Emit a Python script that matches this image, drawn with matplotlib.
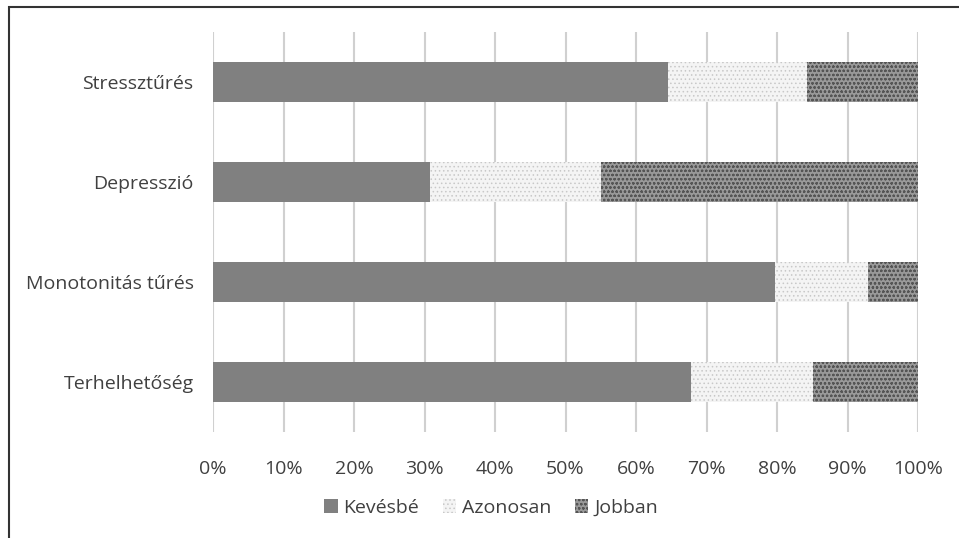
import matplotlib
matplotlib.use("Agg")
import matplotlib.pyplot as plt
from matplotlib.patches import Rectangle

categories = ["Terhelhetőség", "Monotonitás tűrés", "Depresszió", "Stressztűrés"]
kevesbe = [67.8, 79.7, 30.8, 64.5]
azonosan = [17.3, 13.2, 24.2, 19.8]
jobban = [14.9, 7.1, 45.0, 15.7]
series_names = ["Kevésbé", "Azonosan", "Jobban"]
xticks = [0, 10, 20, 30, 40, 50, 60, 70, 80, 90, 100]

plt.rcParams['font.family'] = ['Open Sans', 'DejaVu Sans']
plt.rcParams['hatch.linewidth'] = 0.6

fig = plt.figure(figsize=(9.59, 5.38), dpi=100)
ax = fig.add_axes([213/959, 1 - 432/538, 705/959, 400/538])

# outer frame (only left/top visible in the reference crop)
fig.patches.append(Rectangle((9/959, -0.1), 1.2, 1 - 7/538 + 0.1, transform=fig.transFigure,
                             fill=False, edgecolor="#333333", linewidth=1.5, clip_on=False))

y = range(len(categories))
h = 0.4
lefts = [0] * len(categories)
styles = [
    dict(color="#808080", hatch=None, edgecolor="#808080"),
    dict(color="#f4f4f4", hatch="....", edgecolor="#c8c8c8"),
    dict(color="#999999", hatch="oooo", edgecolor="#555555"),
]
for name, vals, st in zip(series_names, [kevesbe, azonosan, jobban], styles):
    ax.barh(y, vals, left=lefts, height=h, color=st["color"], hatch=st["hatch"],
            edgecolor=st["edgecolor"], linewidth=0, label=name, zorder=3)
    lefts = [a + b for a, b in zip(lefts, vals)]

fs = 14
ax.set_xlim(0, 100)
ax.set_ylim(-0.5, 3.5)
ax.set_xticks(xticks)
ax.set_xticklabels([f"{t}%" for t in xticks], fontsize=fs, color="#404040")
ax.set_yticks(list(y))
ax.set_yticklabels(categories, fontsize=fs, color="#404040")
ax.tick_params(length=0)
ax.tick_params(axis="x", pad=20)
ax.tick_params(axis="y", pad=14)
for s in ax.spines.values():
    s.set_visible(False)
ax.grid(axis="x", color="#d0d0d0", linewidth=1.5, zorder=0)
ax.set_axisbelow(True)

leg = fig.legend(loc="center", bbox_to_anchor=(0.512, 1 - 508/538), ncol=3, frameon=False,
                 fontsize=fs, handlelength=0.7, handleheight=0.7, handletextpad=0.3,
                 columnspacing=1.2)
for t in leg.get_texts():
    t.set_color("#404040")

fig.savefig("out.png", dpi=100)
